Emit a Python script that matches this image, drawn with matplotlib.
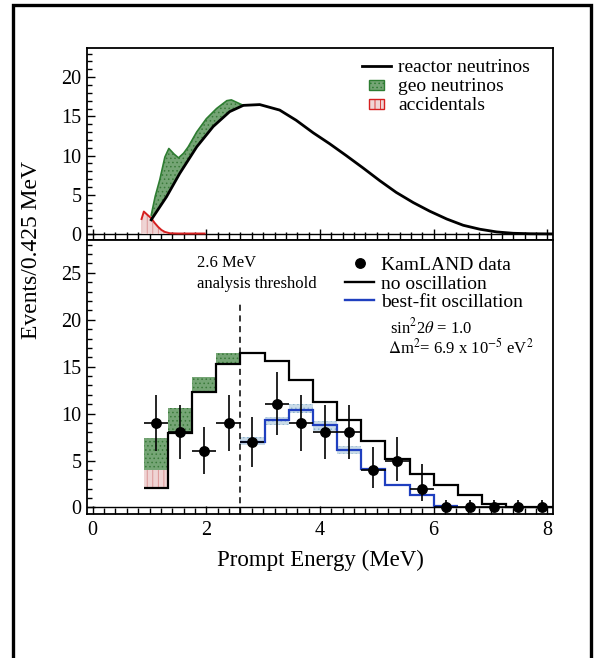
import matplotlib
matplotlib.use("Agg")
import matplotlib.pyplot as plt
from matplotlib.patches import Patch, Rectangle
from matplotlib.lines import Line2D
from matplotlib.legend_handler import HandlerPatch
from matplotlib.ticker import MultipleLocator

plt.rcParams['font.family'] = ['Liberation Serif', 'DejaVu Serif']
plt.rcParams['mathtext.fontset'] = 'stix'
plt.rcParams['hatch.linewidth'] = 0.6

# ---- top panel: expected spectra ----
reactor_x = [1.03, 1.30, 1.53, 1.83, 2.12, 2.41, 2.65, 2.94, 3.29, 3.58, 3.88, 4.17,
             4.46, 4.76, 5.05, 5.34, 5.64, 5.93, 6.23, 6.52, 6.81, 7.11, 7.40, 7.70, 8.10]
reactor_y = [1.8, 4.75, 7.7, 11.1, 13.7, 15.6, 16.4, 16.5, 15.8, 14.5, 12.9, 11.5,
             10.0, 8.4, 6.8, 5.3, 4.0, 2.9, 1.9, 1.1, 0.6, 0.25, 0.08, 0.02, 0.0]

geo_x = [1.03, 1.10, 1.18, 1.27, 1.34, 1.43, 1.51, 1.60, 1.68, 1.83, 2.00, 2.18,
         2.36, 2.44, 2.53, 2.65]
geo_y = [2.4, 4.8, 6.9, 9.8, 10.9, 10.2, 9.7, 10.3, 11.1, 13.0, 14.7, 16.0,
         17.0, 17.1, 16.8, 16.4]

acc_x = [0.86, 0.90, 0.96, 1.03, 1.09, 1.15, 1.21, 1.27, 1.36, 1.50, 1.70, 1.97]
acc_y = [1.9, 2.85, 2.45, 2.0, 1.4, 0.9, 0.5, 0.25, 0.08, 0.05, 0.05, 0.05]

# ---- bottom panel: binned spectra ----
edges = [0.900, 1.325, 1.750, 2.175, 2.600, 3.025, 3.450, 3.875, 4.300,
         4.725, 5.150, 5.575, 6.000, 6.425, 6.850, 7.275, 7.700, 8.125]
no_osc = [2.1, 7.9, 12.3, 15.25, 16.45, 15.6, 13.6, 11.25, 9.35,
          7.05, 5.2, 3.6, 2.4, 1.3, 0.42, 0.1, 0.03]

geo_edges = [0.900, 1.325, 1.750, 2.175, 2.600]
geo_low = [4.0, 7.9, 12.3, 15.25]
geo_high = [7.4, 10.65, 13.95, 16.45]
acc_edges = [0.900, 1.325]
acc_low = [2.1]
acc_high = [4.0]

fit_edges = [2.600, 3.025, 3.450, 3.875, 4.300, 4.725, 5.150, 5.575, 6.000, 6.425]
best_fit = [7.0, 9.3, 10.4, 8.8, 6.13, 4.08, 2.41, 1.28, 0.18]
fit_low = [6.7, 8.75, 10.1, 8.1, 5.75, 3.9, 2.3, 1.2, 0.1]
fit_high = [7.55, 9.6, 11.0, 9.2, 6.55, 4.25, 2.55, 1.4, 0.25]

data_x = [1.11, 1.54, 1.96, 2.39, 2.81, 3.24, 3.66, 4.09, 4.51,
          4.94, 5.36, 5.79, 6.21, 6.64, 7.06, 7.49, 7.91]
counts = [9, 8, 6, 9, 7, 11, 9, 8, 8, 4, 5, 2, 0, 0, 0, 0, 0]
err_lo = [3.0, 2.8, 2.45, 3.0, 2.65, 3.3, 3.0, 2.8, 2.8, 1.9, 2.2, 1.3, 0, 0, 0, 0, 0]
err_hi = [3.0, 2.9, 2.55, 3.0, 2.65, 3.4, 3.0, 2.9, 2.9, 2.4, 2.5, 2.6, 0.8, 0.8, 0.8, 0.8, 0.8]
half_bin = 0.2125
threshold = 2.6

green_face, green_hatch, green_edge = '#75a575', '#3a7a3a', '#2e7d32'
pink_face, pink_hatch, red_edge = '#efd4d4', '#d98c8c', '#d62020'
blue_face, blue_hatch, blue_line = '#c9dbe8', '#8eb2cf', '#1f3fbf'

fig = plt.figure(figsize=(5.98, 6.58), dpi=100)
ax_top = fig.add_axes([0.1455, 0.635, 0.7793, 0.2918])
ax_bot = fig.add_axes([0.1455, 0.2188, 0.7793, 0.4164])

# top panel
n_geo = reactor_x.index(2.65) + 1
poly_x = geo_x + reactor_x[:n_geo][::-1]
poly_y = geo_y + reactor_y[:n_geo][::-1]
ax_top.fill_between(acc_x[:9], 0, acc_y[:9], facecolor=pink_face,
                    edgecolor=pink_hatch, hatch='|||', linewidth=0, zorder=2)
ax_top.fill(poly_x, poly_y, facecolor=green_face, edgecolor=green_hatch,
            hatch='....', linewidth=0, zorder=2)
ax_top.plot(geo_x, geo_y, color=green_edge, lw=1.2, zorder=3)
ax_top.plot(acc_x, acc_y, color=red_edge, lw=1.4, zorder=3)
ax_top.plot(reactor_x, reactor_y, color='black', lw=2.0, zorder=4)
ax_top.axhline(0, color='black', lw=1.0, zorder=1)

ax_top.set_xlim(-0.1, 8.1)
ax_top.set_ylim(-0.8, 23.7)


def small_box(legend, orig_handle, xdescent, ydescent, width, height, fontsize):
    return Rectangle((-xdescent + width * 0.25, -ydescent + height * 0.05),
                     width * 0.5, height * 0.75)


top_handles = [
    Line2D([], [], color='black', lw=2.0),
    Patch(facecolor=green_face, edgecolor=green_edge, hatch='....', lw=1.0),
    Patch(facecolor=pink_face, edgecolor=red_edge, hatch='|||', lw=1.0),
]
ax_top.legend(top_handles, ['reactor neutrinos', 'geo neutrinos', 'accidentals'],
              loc='upper left', bbox_to_anchor=(0.59, 0.945), frameon=False,
              fontsize=14, borderpad=0, borderaxespad=0, handlelength=1.5,
              handletextpad=0.35, labelspacing=0.05,
              handler_map={Patch: HandlerPatch(patch_func=small_box)})

# bottom panel
ax_bot.stairs(acc_high, acc_edges, baseline=acc_low, fill=True, facecolor=pink_face,
              edgecolor=pink_hatch, hatch='|||', linewidth=0, zorder=2)
ax_bot.stairs(geo_high, geo_edges, baseline=geo_low, fill=True, facecolor=green_face,
              edgecolor=green_hatch, hatch='....', linewidth=0, zorder=2)
ax_bot.stairs(fit_high, fit_edges, baseline=fit_low, fill=True, facecolor=blue_face,
              edgecolor=blue_hatch, hatch='....', linewidth=0, zorder=2)
ax_bot.stairs(no_osc, edges, baseline=None, color='black', lw=1.6, zorder=3)
ax_bot.stairs(best_fit, fit_edges, baseline=None, color=blue_line, lw=1.6, zorder=3)
ax_bot.errorbar(data_x, counts, yerr=[err_lo, err_hi], xerr=half_bin, fmt='o',
                color='black', ms=6.8, elinewidth=1.2, capsize=0, zorder=5)
ax_bot.vlines(threshold, -0.7, 21.8, colors='black', linestyles=(0, (4, 3)),
              lw=1.1, zorder=4)
ax_bot.axhline(0, color='black', lw=1.0, zorder=1)

ax_bot.text(1.83, 26.0, '2.6 MeV', fontsize=12, va='center', ha='left')
ax_bot.text(1.83, 23.8, 'analysis threshold', fontsize=12, va='center', ha='left')
ax_bot.text(5.23, 19.15, r'sin$^2$2$\theta$ = 1.0', fontsize=12, va='center', ha='left')
ax_bot.text(5.2, 17.0, r'$\Delta$m$^2$= 6.9 x 10$^{-5}$ eV$^2$', fontsize=12,
            va='center', ha='left')

bot_handles = [
    Line2D([], [], marker='o', color='black', ls='none', ms=6.8),
    Line2D([], [], color='black', lw=1.7),
    Line2D([], [], color=blue_line, lw=1.7),
]
ax_bot.legend(bot_handles, ['KamLAND data', 'no oscillation', 'best-fit oscillation'],
              loc='upper left', bbox_to_anchor=(0.554, 0.94), frameon=False,
              fontsize=14, borderpad=0, borderaxespad=0, handlelength=1.5,
              handletextpad=0.35, labelspacing=0.05)

ax_bot.set_xlim(-0.1, 8.1)
ax_bot.set_ylim(-0.7, 28.5)
ax_bot.set_xlabel('Prompt Energy (MeV)', fontsize=16.5, labelpad=7)

for ax in (ax_top, ax_bot):
    ax.xaxis.set_major_locator(MultipleLocator(2))
    ax.xaxis.set_minor_locator(MultipleLocator(0.2))
    ax.yaxis.set_major_locator(MultipleLocator(5))
    ax.yaxis.set_minor_locator(MultipleLocator(1))
    ax.tick_params(which='both', direction='in', top=False, right=False,
                   labelsize=14.5, width=1.0)
    ax.tick_params(axis='y', which='major', length=6, pad=4)
    ax.tick_params(axis='y', which='minor', length=3.6)
    for sp in ax.spines.values():
        sp.set_linewidth(1.3)

ax_top.tick_params(axis='x', which='major', length=8, labelbottom=False)
ax_top.tick_params(axis='x', which='minor', length=5.5)
ax_bot.tick_params(axis='x', which='major', length=6, pad=5)
ax_bot.tick_params(axis='x', which='minor', length=4.5)

fig.text(32 / 598, 1 - 250 / 658, 'Events/0.425 MeV', rotation=90, fontsize=17,
         ha='center', va='center')

# outer frame
fig.add_artist(Rectangle((13 / 598, -0.05), (591 - 13) / 598, 1.05 - 5 / 658,
                         transform=fig.transFigure, fill=False, lw=2.4,
                         edgecolor='black'))

fig.savefig('out.png', dpi=100)
